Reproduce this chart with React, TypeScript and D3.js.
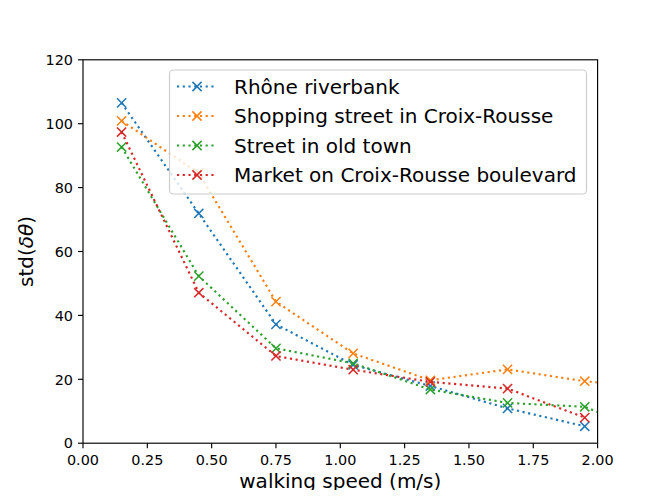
import React from "react";
import * as d3 from "d3";

const speeds = [0.15, 0.45, 0.75, 1.05, 1.35, 1.65, 1.95, 2.25];
const seriesNames = [
  "Rhône riverbank",
  "Shopping street in Croix-Rousse",
  "Street in old town",
  "Market on Croix-Rousse boulevard",
];
const seriesColors = ["#1f77b4", "#ff7f0e", "#2ca02c", "#d62728"];
const rhone = [106.5, 71.9, 37.2, 24.5, 17.9, 10.9, 5.3];
const shopping = [100.9, 84.5, 44.3, 28.1, 19.7, 23.1, 19.4, 17.0];
const oldTown = [92.7, 52.3, 29.7, 25.0, 16.8, 12.6, 11.4, 1.5];
const market = [97.4, 47.1, 27.3, 23.0, 19.2, 17.1, 8.0];
const seriesValues = [rhone, shopping, oldTown, market];
const xTicks = [0, 0.25, 0.5, 0.75, 1.0, 1.25, 1.5, 1.75, 2.0];
const yTicks = [0, 20, 40, 60, 80, 100, 120];

const W = 664;
const H = 498;
const L = 83;
const R = 597.6;
const T = 59.8;
const B = 443.2;
const FONT = "DejaVu Sans, sans-serif";

export default function App() {
  const x = d3.scaleLinear().domain([0, 2]).range([L, R]);
  const y = d3.scaleLinear().domain([0, 120]).range([B, T]);
  const lw = 2.16;
  const dash = "2.16,3.57";
  const ms = 4.6;
  const line = d3
    .line<[number, number]>()
    .x((d) => x(d[0]))
    .y((d) => y(d[1]));

  const cross = (cx: number, cy: number, color: string, key: string) => (
    <g key={key} stroke={color} strokeWidth={1.5} fill="none">
      <line x1={cx - ms} y1={cy - ms} x2={cx + ms} y2={cy + ms} />
      <line x1={cx - ms} y1={cy + ms} x2={cx + ms} y2={cy - ms} />
    </g>
  );

  const legX = 169.5;
  const legY = 70;
  const legW = 417;
  const legH = 124;
  const rowY = [86.5, 116, 145.5, 175];

  return (
    <div style={{ margin: -8 }}>
      <svg width={W} height={H} style={{ display: "block", background: "#fff" }}>
        <defs>
          <clipPath id="plotclip">
            <rect x={L} y={T} width={R - L} height={B - T} />
          </clipPath>
        </defs>
        <rect x={0} y={0} width={W} height={H} fill="#fff" />
        <g clipPath="url(#plotclip)">
          {seriesValues.map((vals, i) => {
            const pts: [number, number][] = vals.map((v, j) => [speeds[j], v]);
            return (
              <g key={i}>
                <path
                  d={line(pts) || ""}
                  fill="none"
                  stroke={seriesColors[i]}
                  strokeWidth={lw}
                  strokeDasharray={dash}
                />
                {pts.map((p, j) => cross(x(p[0]), y(p[1]), seriesColors[i], `m${i}-${j}`))}
              </g>
            );
          })}
        </g>
        <rect x={L} y={T} width={R - L} height={B - T} fill="none" stroke="#000" strokeWidth={1.15} />
        {xTicks.map((t) => (
          <g key={`xt${t}`}>
            <line x1={x(t)} x2={x(t)} y1={B} y2={B + 5} stroke="#000" strokeWidth={1.15} />
            <text x={x(t)} y={464.5} fontFamily={FONT} fontSize={14.4} textAnchor="middle" fill="#000">
              {t.toFixed(2)}
            </text>
          </g>
        ))}
        {yTicks.map((t) => (
          <g key={`yt${t}`}>
            <line x1={L - 5} x2={L} y1={y(t)} y2={y(t)} stroke="#000" strokeWidth={1.15} />
            <text x={L - 10} y={y(t) + 5.2} fontFamily={FONT} fontSize={14.4} textAnchor="end" fill="#000">
              {t}
            </text>
          </g>
        ))}
        <text x={(L + R) / 2} y={487.5} fontFamily={FONT} fontSize={20} textAnchor="middle" fill="#000">
          walking speed (m/s)
        </text>
        <text
          transform={`translate(33,${(T + B) / 2}) rotate(-90)`}
          fontFamily={FONT}
          fontSize={20}
          textAnchor="middle"
          fill="#000"
        >
          std(<tspan fontStyle="italic">δθ</tspan>)
        </text>
        <rect
          x={legX}
          y={legY}
          width={legW}
          height={legH}
          rx={4}
          ry={4}
          fill="#fff"
          fillOpacity={0.8}
          stroke="#cccccc"
          strokeWidth={1.15}
        />
        {seriesNames.map((name, i) => (
          <g key={`lg${i}`}>
            <line
              x1={177}
              x2={217}
              y1={rowY[i]}
              y2={rowY[i]}
              stroke={seriesColors[i]}
              strokeWidth={lw}
              strokeDasharray={dash}
            />
            {cross(197, rowY[i], seriesColors[i], `lm${i}`)}
            <text x={234} y={rowY[i] + 7} fontFamily={FONT} fontSize={20} fill="#000">
              {name}
            </text>
          </g>
        ))}
      </svg>
    </div>
  );
}
